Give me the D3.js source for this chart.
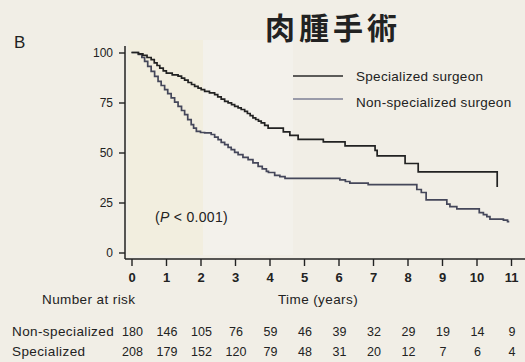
<!DOCTYPE html>
<html>
<head>
<meta charset="utf-8">
<script src="https://cdn.jsdelivr.net/npm/d3@7"></script>
<style>
  html, body { margin: 0; padding: 0; background: #f2efe6; }
  svg { display: block; }
  text { font-family: "Liberation Sans", Arial, sans-serif; fill: #222; }
</style>
</head>
<body>
<svg id="chart" width="525" height="362"></svg>
<script>
// Kaplan-Meier survival (%) by surgeon type
const title = "肉腫手術";
const panelLabel = "B";
const yTicks = [0, 25, 50, 75, 100];
const xTicks = [0, 1, 2, 3, 4, 5, 6, 7, 8, 9, 10, 11];

// Specialized surgeon: event times (years) and survival (%) after each step
const specTimes = [0, 0.2, 0.33, 0.45, 0.57, 0.66, 0.74, 0.82, 0.92, 1.01, 1.18, 1.35, 1.45, 1.54, 1.64,
  1.74, 1.83, 1.93, 2.02, 2.12, 2.26, 2.41, 2.5, 2.6, 2.7, 2.8, 2.9, 2.99, 3.09, 3.18, 3.28, 3.36,
  3.44, 3.52, 3.6, 3.68, 3.76, 3.86, 3.96, 4.4, 4.59, 4.83, 5.56, 6.19, 7.06, 7.12, 7.93, 8.31, 10.6];
const specSurv = [100, 99.3, 98.6, 97.5, 96.4, 94.8, 93.5, 92.2, 90.8, 89.7, 88.8, 88.2, 87.2, 86.2, 85.0,
  84.0, 83.1, 82.2, 81.4, 80.6, 79.8, 78.9, 77.8, 76.7, 75.6, 74.8, 73.9, 73.1, 72.3, 71.5, 70.6, 69.5,
  68.4, 67.3, 66.5, 65.7, 64.8, 63.6, 62.2, 60.3, 58.6, 56.6, 55.3, 53.3, 51.1, 48.3, 44.5, 40.3, 32.8];
const specEnd = 10.6;

// Non-specialized surgeon
const nonTimes = [0, 0.2, 0.3, 0.38, 0.47, 0.57, 0.67, 0.77, 0.86, 0.96, 1.05, 1.15, 1.25, 1.35, 1.45,
  1.54, 1.63, 1.73, 1.8, 1.88, 2.0, 2.12, 2.31, 2.41, 2.51, 2.6, 2.7, 2.8, 2.89, 2.99, 3.09, 3.23, 3.38,
  3.52, 3.67, 3.79, 3.91, 3.97, 4.15, 4.3, 4.45, 6.04, 6.2, 6.33, 6.86, 8.27, 8.4, 8.54, 9.14, 9.23,
  9.43, 10.08, 10.2, 10.3, 10.39, 10.78, 10.9];
const nonSurv = [100, 99, 97.5, 95.6, 93.1, 90.6, 88.1, 85.6, 83.5, 81.4, 79.4, 77.3, 75.2, 73.1, 71.0,
  68.9, 66.4, 63.9, 62.2, 60.6, 60.0, 59.8, 59.0, 57.7, 56.4, 55.1, 53.9, 52.6, 51.4, 50.1, 48.9, 47.6, 46.4,
  44.8, 43.1, 41.8, 40.6, 40.0, 38.6, 37.9, 37.1, 36.3, 35.5, 34.7, 33.9, 31.5, 30.0, 26.3, 24.2, 22.9,
  21.8, 19.9, 18.9, 17.9, 16.7, 16.2, 15.4];
const nonEnd = 10.95;

// Number at risk at each yearly tick
const riskRows = ["Non-specialized", "Specialized"];
const riskNon = [180, 146, 105, 76, 59, 46, 39, 32, 29, 19, 14, 9];
const riskSpec = [208, 179, 152, 120, 79, 48, 31, 20, 12, 7, 6, 4];

const legendLabels = ["Specialized surgeon", "Non-specialized surgeon"];
const pText = "< 0.001)";

const svg = d3.select("#chart");

// paper tone panels
svg.append("rect").attr("x", 0).attr("y", 0).attr("width", 525).attr("height", 362).attr("fill", "#f1eee6");
svg.append("rect").attr("x", 128).attr("y", 40).attr("width", 75).attr("height", 215).attr("fill", "#f2eedc").attr("opacity", 0.7);
svg.append("rect").attr("x", 203).attr("y", 40).attr("width", 90).attr("height", 215).attr("fill", "#f5f4ee").attr("opacity", 0.6);

const x = d3.scaleLinear().domain([0, 11]).range([131.5, 511]);
const y = d3.scaleLinear().domain([0, 100]).range([252.5, 52.5]);

// Title and panel label
svg.append("text").attr("x", 333).attr("y", 39).attr("text-anchor", "middle")
  .style("font-family", "'Noto Sans CJK JP', 'Noto Sans CJK SC', sans-serif")
  .style("font-size", "30px").style("font-weight", 700).style("letter-spacing", "4px")
  .attr("fill", "#1c1c1c").text(title);
svg.append("text").attr("x", 14).attr("y", 48).style("font-size", "17px").text(panelLabel);

// Y axis
const yAxis = d3.axisLeft(y).tickValues(yTicks).tickSize(6).tickPadding(6);
const gy = svg.append("g").attr("transform", "translate(125,0)").call(yAxis);
gy.select(".domain").remove();
gy.append("line").attr("x1", 0).attr("x2", 0).attr("y1", 46).attr("y2", 259)
  .attr("stroke", "#222").attr("stroke-width", 1.5);
gy.selectAll(".tick line").attr("stroke", "#222").attr("stroke-width", 1.4);
gy.selectAll(".tick text").style("font-size", "12px").style("font-family", "'Liberation Sans', Arial, sans-serif").attr("fill", "#222");

// X axis
const xAxis = d3.axisBottom(x).tickValues(xTicks).tickSize(7).tickPadding(7);
const gx = svg.append("g").attr("transform", "translate(0,259)").call(xAxis);
gx.select(".domain").remove();
gx.append("line").attr("x1", 125).attr("x2", 525).attr("y1", 0).attr("y2", 0)
  .attr("stroke", "#222").attr("stroke-width", 1.5);
gx.selectAll(".tick line").attr("stroke", "#222").attr("stroke-width", 1.4);
gx.selectAll(".tick text").style("font-size", "13px").style("font-weight", "bold")
  .style("font-family", "'Liberation Sans', Arial, sans-serif").attr("fill", "#222");

// Survival curves
const line = d3.line().x(d => x(d[0])).y(d => y(d[1])).curve(d3.curveStepAfter);
function series(times, surv, end) {
  const pts = times.map((t, i) => [t, surv[i]]);
  pts.push([end, surv[surv.length - 1]]);
  return pts;
}
svg.append("path").datum(series(nonTimes, nonSurv, nonEnd)).attr("d", line)
  .attr("fill", "none").attr("stroke", "#45475a").attr("stroke-width", 1.7);
svg.append("path").datum(series(specTimes, specSurv, specEnd)).attr("d", line)
  .attr("fill", "none").attr("stroke", "#222").attr("stroke-width", 1.7);

// Legend
const legendColors = ["#2a2a2a", "#7d7f94"];
const legendY = [76, 99];
const legendTextY = [81, 107];
legendLabels.forEach((lbl, i) => {
  svg.append("line").attr("x1", 293).attr("x2", 343).attr("y1", legendY[i]).attr("y2", legendY[i])
    .attr("stroke", legendColors[i]).attr("stroke-width", 1.6);
  svg.append("text").attr("x", 356).attr("y", legendTextY[i]).style("font-size", "13.5px")
    .style("letter-spacing", "0.3px").text(lbl);
});

// P value
const pt = svg.append("text").attr("x", 155).attr("y", 222).style("font-size", "14px").style("letter-spacing", "0.3px");
pt.append("tspan").text("(");
pt.append("tspan").style("font-style", "italic").text("P");
pt.append("tspan").text(" " + pText);

// Axis title and risk table
svg.append("text").attr("x", 318).attr("y", 304).attr("text-anchor", "middle").style("font-size", "13.5px")
  .style("letter-spacing", "0.4px").text("Time (years)");
svg.append("text").attr("x", 42).attr("y", 304).style("font-size", "13.5px")
  .style("letter-spacing", "0.4px").text("Number at risk");

const riskY = [336, 356];
[riskNon, riskSpec].forEach((row, r) => {
  svg.append("text").attr("x", 12).attr("y", riskY[r]).style("font-size", "13.5px")
    .style("letter-spacing", "0.4px").text(riskRows[r]);
  svg.append("g").selectAll("text").data(row).join("text")
    .attr("x", (d, i) => x(xTicks[i]) + 1).attr("y", riskY[r])
    .attr("text-anchor", "middle").style("font-size", "12.5px").text(d => d);
});
</script>
</body>
</html>
